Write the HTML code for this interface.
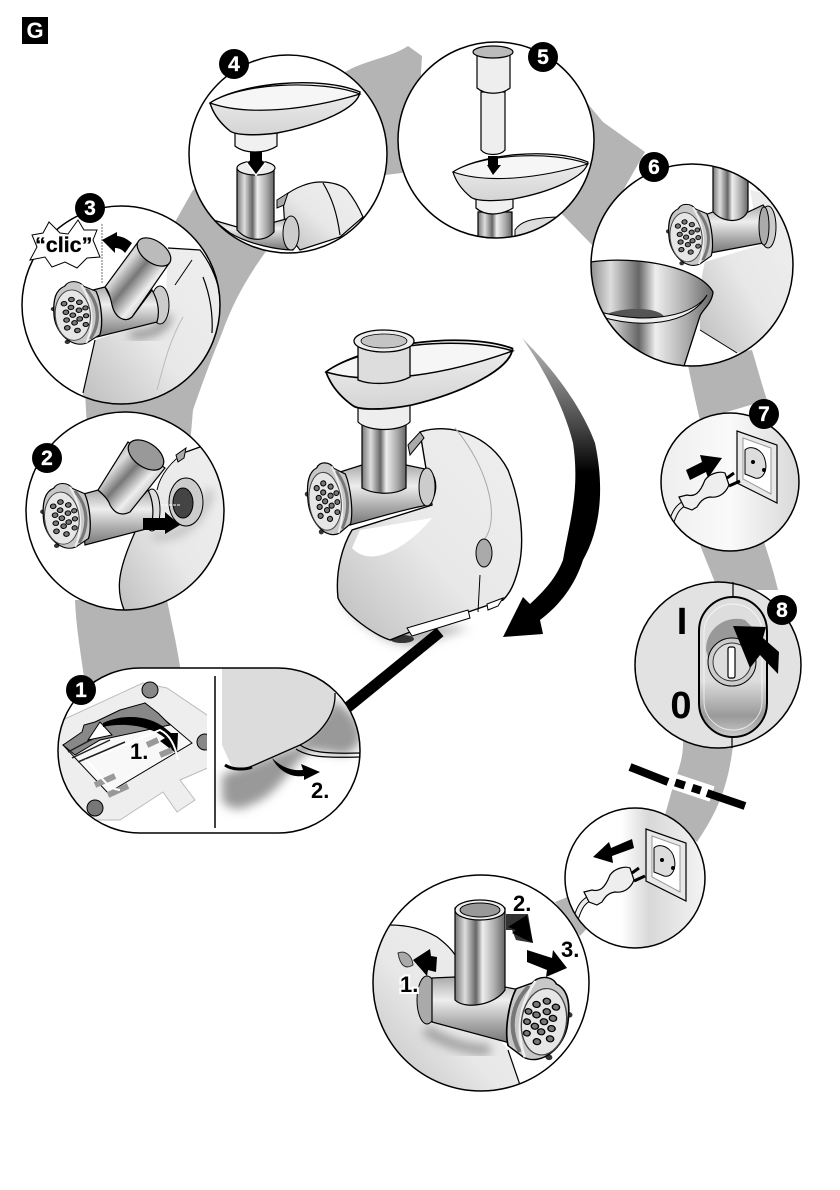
<!DOCTYPE html>
<html><head><meta charset="utf-8"><style>html,body{margin:0;padding:0;background:#fff}svg{display:block}text{font-family:"Liberation Sans",sans-serif;font-weight:bold}</style></head><body>
<svg width="840" height="1190" viewBox="0 0 840 1190" xmlns="http://www.w3.org/2000/svg">
<defs>
<linearGradient id="m"><stop offset="0" stop-color="#777"/><stop offset=".2" stop-color="#ddd"/><stop offset=".42" stop-color="#666"/><stop offset=".55" stop-color="#eee"/><stop offset=".8" stop-color="#aaa"/><stop offset="1" stop-color="#666"/></linearGradient>
<linearGradient id="m2" x1="0" y1="0" x2="1" y2="1"><stop offset="0" stop-color="#777"/><stop offset=".3" stop-color="#ddd"/><stop offset=".45" stop-color="#777"/><stop offset=".62" stop-color="#eee"/><stop offset=".8" stop-color="#aaa"/><stop offset="1" stop-color="#666"/></linearGradient>
<linearGradient id="mv" x1="0" y1="0" x2="0" y2="1"><stop offset="0" stop-color="#aaa"/><stop offset=".35" stop-color="#eee"/><stop offset=".7" stop-color="#aaa"/><stop offset="1" stop-color="#777"/></linearGradient>
<linearGradient id="b" x1="1" y1="0" x2="0" y2="1"><stop offset="0" stop-color="#efefef"/><stop offset=".55" stop-color="#e8e8e8"/><stop offset="1" stop-color="#bdbdbd"/></linearGradient>
<linearGradient id="t" x1="0" y1="0" x2="0" y2="1"><stop offset="0" stop-color="#f2f2f2"/><stop offset="1" stop-color="#d4d4d4"/></linearGradient>
<linearGradient id="arc" x1="0" y1="0" x2="0" y2="1"><stop offset="0" stop-color="#bbb"/><stop offset=".3" stop-color="#444"/><stop offset=".45" stop-color="#000"/></linearGradient>
<linearGradient id="sw" x1="0" y1="0" x2="0" y2="1"><stop offset="0" stop-color="#ddd"/><stop offset=".6" stop-color="#ddd"/><stop offset=".85" stop-color="#999"/><stop offset="1" stop-color="#ccc"/></linearGradient>
<linearGradient id="bg" x1="0" y1="0" x2="1" y2="0"><stop offset="0" stop-color="#eee"/><stop offset=".5" stop-color="#fafafa"/><stop offset="1" stop-color="#d8d8d8"/></linearGradient>
<linearGradient id="bw" x1="0" y1="0" x2="1" y2="0"><stop offset="0" stop-color="#fff"/><stop offset=".4" stop-color="#fff"/><stop offset=".6" stop-color="#d8d8d8"/><stop offset="1" stop-color="#f4f4f4"/></linearGradient>
<filter id="bl" x="-30%" y="-30%" width="160%" height="160%"><feGaussianBlur stdDeviation="5"/></filter>
<g id="h">
<circle cx="-20" cy="-8" r="2.5" fill="#333"/><circle cx="-10" cy="31" r="2.5" fill="#333"/>
<path d="M-8-33C-4-40 6-38 9-31L20-24C24-10 24 14 20 26L8 34C-6 40-20 20-20 0S-16-30-8-33Z" fill="#c8c8c8" stroke="#000" stroke-width="1.2"/>
<path d="M11-28C22-10 22 12 11 30" fill="none" stroke="#777" stroke-width="3"/>
<path d="M7-33C16-12 16 14 7 34" fill="none" stroke="#eee" stroke-width="2"/>
<ellipse cx="-3" cy="1" rx="16" ry="29" fill="#e6e6e6" stroke="#444"/>
<g fill="#777" stroke="#000" stroke-width="1">
<circle cx="-3" cy="1" r="2.6"/><circle cx="-4" cy="-8" r="2.6"/><circle cx="-2" cy="10" r="2.6"/><circle cx="3" cy="-4" r="2.6"/><circle cx="3" cy="6" r="2.6"/><circle cx="-9" cy="-3" r="2.6"/><circle cx="-9" cy="6" r="2.6"/><circle cx="-3" cy="-17" r="2.6"/><circle cx="4" cy="-13" r="2.6"/><circle cx="-10" cy="-13" r="2.6"/><circle cx="9" cy="-6" r="2.4"/><circle cx="9" cy="3" r="2.4"/><circle cx="8" cy="13" r="2.4"/><circle cx="-9" cy="15" r="2.6"/><circle cx="0" cy="19" r="2.6"/>
</g></g>
<clipPath id="c1l"><rect x="58" y="668" width="149" height="165"/></clipPath>
<clipPath id="c1"><rect x="58" y="668" width="302" height="165" rx="82"/></clipPath>
<clipPath id="c2"><circle cx="125" cy="511" r="99"/></clipPath>
<clipPath id="c3"><circle cx="121" cy="305" r="99"/></clipPath>
<clipPath id="c4"><circle cx="288" cy="154" r="99"/></clipPath>
<clipPath id="c5"><circle cx="496" cy="140" r="98"/></clipPath>
<clipPath id="c6"><circle cx="692" cy="265" r="101"/></clipPath>
<clipPath id="c7"><circle cx="730" cy="482" r="69"/></clipPath>
<clipPath id="c8"><circle cx="718" cy="665" r="83"/></clipPath>
<clipPath id="c9"><circle cx="635" cy="878" r="70"/></clipPath>
<clipPath id="c10"><circle cx="481" cy="983" r="108"/></clipPath>
<g id="tray"><path d="M0 0C30-20 110-28 150-11C148 5 110 22 67 30C45 33 25 32 20 28C10 20 3 10 0 0Z" fill="url(#t)" stroke="#000" stroke-width="1.4"/><path d="M0 0C40 14 100 6 150-9C110-24 30-20 0 0Z" fill="#f6f6f6" stroke="#000" stroke-width="1.2"/></g>
<g id="sock">
<path d="M646 829L686 843V901L646 881Z" fill="#e8e8e8" stroke="#000" stroke-width="1.2"/>
<path d="M652 836L680 846V892L652 877Z" fill="#fff" stroke="#999"/>
<path d="M654 848C660 842 672 848 674 858C677 868 672 878 664 876L654 872Z" fill="#ddd" stroke="#000"/>
<circle cx="662" cy="860" r="2" fill="#000"/><circle cx="673" cy="868" r="2" fill="#000"/>
</g>
<g id="plug">
<path d="M576 918C580 906 583 902 590 898" stroke="#000" stroke-width="6" fill="none"/>
<path d="M576 918C580 906 583 902 590 898" stroke="#eee" stroke-width="4" fill="none"/>
<path d="M632 873L639 868M634 881L645 876" stroke="#000" stroke-width="3"/>
<path d="M584 892L592 890C600 892 605 888 610 875C615 868 625 866 630 868L634 880C630 890 622 893 615 892C608 893 605 897 602 902L597 905L589 902Z" fill="#eee" stroke="#000" stroke-width="1.2"/>
</g>
</defs>
<rect width="840" height="1190" fill="#fff"/>

<g fill="#b4b4b4">
<path d="M75 600L167 600C172 625 178 650 182 680L86 690C80 650 76 625 75 600Z"/>
<path d="M85 390L87 430L190 445L193 410C205 375 215 350 222 333C232 305 245 280 267 250L230 170L193 190L175 222L120 300Z"/>
<path d="M345 72C365 60 390 58 408 46L422 56L420 90L410 172L385 175L300 100Z"/>
<path d="M588 104L603 122L645 152L592 245L560 212Z"/>
<path d="M687 360C692 385 695 400 700 420L767 400C762 385 758 370 752 350Z"/>
<path d="M700 545L718 590L778 590C772 565 768 555 762 535Z"/>
<path d="M683 740C684 760 676 775 672 790L665 815L697 842C715 815 728 790 733 745Z"/>
<path d="M555 902L570 896L590 925L580 936Z"/>
</g>

<!-- Big arrow -->
<path d="M522 338C560 375 585 415 595 443C605 490 600 530 583 560C575 585 560 605 540 620L543 634L503 637L523 597L530 604C545 590 556 578 563 560C570 520 580 490 573 443C565 410 545 370 522 338Z" fill="url(#arc)"/>

<!-- Main machine shadow + cord -->
<path d="M340 600C360 625 390 650 420 645L470 628L400 620Z" fill="#bbb" filter="url(#bl)"/>
<path d="M342 712L440 632" stroke="#000" stroke-width="11" fill="none"/>

<!-- Main machine -->
<g>
<ellipse cx="402" cy="639" rx="12" ry="4" fill="#333"/>
<path d="M420 432C450 422 490 435 508 470C522 505 525 545 518 570C514 585 510 593 503 600L410 632L390 640C375 635 345 615 338 598C335 570 343 545 352 530L432 505Z" fill="url(#b)" stroke="#000" stroke-width="1.4"/>
<path d="M455 428C490 470 500 520 484 540" stroke="#aaa" fill="none"/>
<path d="M352 548C372 570 410 545 432 518L360 530Z" fill="#fff"/>
<path d="M480 575L478 612" stroke="#000"/>
<ellipse cx="484" cy="553" rx="8" ry="14" fill="#aaa" stroke="#000"/>
<path d="M407 628L468 610L470 618L412 636Z" fill="#fff" stroke="#000"/>
<path d="M487 604L503 598L498 606L488 610Z" fill="#fff" stroke="#000"/>
<path d="M408 445L420 432L424 438L410 455Z" fill="#aaa" stroke="#000"/>
<path d="M340 472L362 465H406L430 470C438 480 438 495 428 505C400 510 370 520 350 525Z" fill="url(#mv)" stroke="#000" stroke-width="1.2"/>
<ellipse cx="427" cy="487" rx="8" ry="19" fill="#ccc" stroke="#000"/>
<path d="M362 425H406V488C395 495 375 495 362 488Z" fill="url(#m)" stroke="#000" stroke-width="1.2"/>
<path d="M358 404H410V422C400 432 368 432 358 422Z" fill="#eee" stroke="#000" stroke-width="1.2"/>
<use href="#tray" transform="translate(326,372) rotate(-3) scale(1.25)"/>
<path d="M358 340H410V377C395 385 370 385 358 380Z" fill="#ddd" stroke="#000" stroke-width="1.3"/>
<ellipse cx="384" cy="341" rx="30" ry="11" fill="#eee" stroke="#000" stroke-width="1.3"/>
<ellipse cx="384" cy="341" rx="23" ry="7" fill="#c4c4c4" stroke="#000" stroke-width=".8"/>
<use href="#h" transform="translate(328,500) rotate(-6)"/>
</g>

<!-- Circle 1 -->
<circle cx="140" cy="750" r="1" fill="none"/>
<rect x="58" y="668" width="302" height="165" rx="82" fill="#fff"/>
<g clip-path="url(#c1)">
<g clip-path="url(#c1l)">
<path d="M58 722L143 683L167 688L210 717V767L180 780L195 800L177 812L163 792L120 820H58Z" fill="#eee" stroke="#bbb"/>
<path d="M63 745L145 703L192 743L108 793Z" fill="#f8f8f8" stroke="#000"/>
<path d="M63 745L82 732L84 725L95 722L120 710L145 703L158 713L170 725L100 740L75 755Z" fill="#888" stroke="#000"/>
<path d="M68 752L100 735M72 758L110 740M78 762L125 742" stroke="#222" stroke-width="1.5"/>
<path d="M88 740L100 722L112 735Z" fill="#fff" stroke="#000"/>
<path d="M103 723C125 713 150 716 165 728L171 733L178 733L177 754L160 741L165 738C150 726 125 722 103 727Z" fill="#000"/>
<path d="M95 785L115 776M108 795L128 786" stroke="#999" stroke-width="6"/>
<path d="M147 745L158 740M160 755L172 750" stroke="#999" stroke-width="6"/>
<path d="M85 760C95 765 105 790 120 790M100 755L160 730C170 735 175 745 178 760" fill="none" stroke="#fff" stroke-width="2"/>
<circle cx="150" cy="690" r="8" fill="#888" stroke="#000"/>
<circle cx="95" cy="808" r="8" fill="#777" stroke="#000"/>
<circle cx="205" cy="742" r="8" fill="#888" stroke="#000"/>
</g>
<path d="M222 775L300 745L335 700C365 720 370 745 345 755L310 750C290 765 280 795 250 805C240 812 225 808 222 800Z" fill="#999" filter="url(#bl)"/>
<path d="M222 668H338L335 693C336 715 320 735 300 745L250 767H232L222 745Z" fill="#dcdcdc"/>
<path d="M335 693C336 715 320 735 300 745L250 767" fill="none" stroke="#000" stroke-width="1.3"/>
<path d="M300 745C310 752 325 754 360 753M296 749C308 757 325 758 360 757" fill="none" stroke="#000" stroke-width="1.2"/>
<path d="M225 765C232 770 245 770 252 767" fill="none" stroke="#000" stroke-width="3"/>
<path d="M272 758C282 768 293 771 303 770L301 764L320 772L304 780L304 776C290 778 278 770 272 758Z" fill="#000"/>
</g>
<rect x="58" y="668" width="302" height="165" rx="82" fill="none" stroke="#000" stroke-width="1.5"/>
<path d="M215 676V828" stroke="#000" stroke-width="1.5"/>
<text x="130" y="759" font-size="22">1.</text>
<text x="311" y="798" font-size="22">2.</text>

<!-- Circle 2 -->
<circle cx="125" cy="511" r="99" fill="#fff"/>
<g clip-path="url(#c2)">
<path d="M186 452L200 447C220 470 230 500 228 520V620L125 615C115 590 118 570 135 532L155 525L157 490C160 475 172 460 186 452Z" fill="url(#b)"/>
<path d="M186 452L200 447M135 532C118 570 115 590 125 612" fill="none" stroke="#000" stroke-width="1.3"/>
<path d="M157 490C160 475 172 460 186 452" fill="none" stroke="#000" stroke-width="1"/>
<path d="M152 535C170 540 200 530 210 490" stroke="#bbb" stroke-width="8" fill="none" filter="url(#bl)"/>
<path d="M176 455L186 448L184 458L178 462Z" fill="#aaa" stroke="#000"/>
<ellipse cx="186" cy="502" rx="17" ry="24" fill="#ccc" stroke="#000"/>
<ellipse cx="183" cy="503" rx="10" ry="15" fill="#444" stroke="#000"/>
<path d="M161 505H180" stroke="#fff" stroke-dasharray="3 1" stroke-width="1"/>
<ellipse cx="152" cy="510" rx="8" ry="21" fill="#ddd" stroke="#000"/>
<path d="M80 495L98 490L115 505L128 512L148 490C153 500 155 515 150 528L85 545Z" fill="url(#mv)" stroke="#000" stroke-width="1.2"/>
<path d="M128 442L165 468L130 512C122 516 115 514 110 505C108 498 100 492 98 490Z" fill="url(#m2)" stroke="#000" stroke-width="1.2"/>
<ellipse cx="146" cy="455" rx="20" ry="12" transform="rotate(35 146 455)" fill="#999" stroke="#000" stroke-width="1.2"/>
<path d="M143 518H165V512L180 525L165 534V530H143Z" fill="#000"/>
<use href="#h" transform="translate(65,517) rotate(-5) scale(1.08,.9)"/>
</g>
<circle cx="125" cy="511" r="99" fill="none" stroke="#000" stroke-width="1.5"/>

<!-- Circle 3 -->
<circle cx="121" cy="305" r="99" fill="#fff"/>
<g clip-path="url(#c3)">
<path d="M168 248L200 250C215 270 225 300 225 320V410L83 410V393L95 340L165 318Z" fill="url(#b)"/>
<path d="M168 248L200 250C212 265 219 285 219 293M95 340L83 393" fill="none" stroke="#000" stroke-width="1.2"/>
<path d="M203 277C210 295 213 315 212 333" fill="none" stroke="#000" stroke-width="1.2"/>
<path d="M157 390C165 360 170 340 183 317" fill="none" stroke="#bbb" stroke-width="1"/>
<path d="M175 285L192 260" stroke="#000"/>
<path d="M130 335C150 335 165 330 168 315" stroke="#888" stroke-width="8" fill="none" filter="url(#bl)"/>
<ellipse cx="160" cy="305" rx="9" ry="19" fill="#ccc" stroke="#000"/>
<path d="M93 290L105 287L114 305L132 317L152 290C158 300 160 312 157 322L97 337Z" fill="url(#mv)" stroke="#000" stroke-width="1.2"/>
<path d="M138 242L170 262L132 317C125 323 115 318 112 305C110 295 108 290 105 287Z" fill="url(#m2)" stroke="#000" stroke-width="1.2"/>
<ellipse cx="154" cy="252" rx="19" ry="11" transform="rotate(35 154 252)" fill="#bbb" stroke="#000" stroke-width="1.2"/>
<use href="#h" transform="translate(76,314) rotate(-5) scale(1.1,.87)"/>
</g>
<circle cx="121" cy="305" r="99" fill="none" stroke="#000" stroke-width="1.5"/>
<path d="M102 224V284" stroke="#888" stroke-width="1.2" stroke-dasharray="2 1"/>
<path d="M32 235L43 233L49 222L60 233L68 234L78 220L84 230L97 230L93 240L100 257L87 258L77 268L65 262L52 267L45 257L30 260L37 247Z" fill="#fff" stroke="#000"/>
<text x="35" y="252" font-size="21.5" stroke="#000" stroke-width=".3">“clic”</text>
<path d="M102 240L117 232L117 236C125 237 128 240 132 243L125 253C122 249 118 248 115 248L115 253Z" fill="#000"/>

<!-- Circle 4 -->
<circle cx="288" cy="154" r="99" fill="#fff"/>
<g clip-path="url(#c4)">
<path d="M283 197C295 187 310 182 320 182C332 182 342 185 347 190C355 200 360 210 363 217L340 237L300 250L285 230Z" fill="url(#b)" stroke="#000" stroke-width="1.2"/>
<path d="M323 183C332 198 337 213 340 235" fill="none" stroke="#000" stroke-width="1.2"/>
<path d="M277 200L288 193L284 205L277 208Z" fill="#aaa" stroke="#000"/>
<path d="M213 220L237 227L275 222L293 217C300 225 300 240 293 250C280 250 250 245 230 233Z" fill="url(#mv)" stroke="#000" stroke-width="1.2"/>
<ellipse cx="291" cy="233" rx="8" ry="17" fill="#ccc" stroke="#000"/>
<path d="M237 168H274V232C265 242 248 242 237 230Z" fill="url(#m)" stroke="#000" stroke-width="1.2"/>
<ellipse cx="256" cy="168" rx="19" ry="7" fill="#eee" stroke="#000" stroke-width="1.2"/>
<path d="M235 133H277V146C265 154 245 154 235 146Z" fill="#f0f0f0" stroke="#000" stroke-width="1.2"/>
<use href="#tray" transform="translate(210,103)"/>
<path d="M247 162L256 174L265 162" fill="none" stroke="#fff" stroke-width="3"/>
<path d="M250 152H262V162H265L256 174L247 162H250Z" fill="#000"/>
</g>
<circle cx="288" cy="154" r="99" fill="none" stroke="#000" stroke-width="1.5"/>

<!-- Circle 5 -->
<circle cx="496" cy="140" r="98" fill="#fff"/>
<g clip-path="url(#c5)">
<path d="M515 230C520 222 530 218 557 217L540 235L515 240Z" fill="#ddd" stroke="#000"/>
<path d="M478 212H512V245H478Z" fill="url(#m)" stroke="#000" stroke-width="1.2"/>
<path d="M476 198H513V208C500 216 485 216 476 208Z" fill="#f0f0f0" stroke="#000" stroke-width="1.2"/>
<use href="#tray" transform="translate(453,172) scale(.9)"/>
<path d="M481 92H505V150C500 156 486 156 481 150Z" fill="#eee" stroke="#000" stroke-width="1.2"/>
<path d="M477 52H510V88C502 95 485 95 477 88Z" fill="#eee" stroke="#000" stroke-width="1.2"/>
<ellipse cx="493" cy="52" rx="20" ry="6" fill="#bbb" stroke="#000" stroke-width="1.2"/>
<path d="M488 156H498V165H501L493 175L487 165H488Z" fill="#000"/>
</g>
<circle cx="496" cy="140" r="98" fill="none" stroke="#000" stroke-width="1.5"/>

<!-- Circle 6 -->
<circle cx="692" cy="265" r="101" fill="#fff"/>
<g clip-path="url(#c6)">
<path d="M750 190L795 200V340L737 353L700 330C700 300 700 280 705 262L760 245Z" fill="url(#b)"/>
<path d="M700 330L737 353" stroke="#000"/>
<path d="M748 175L760 190" stroke="#aaa" stroke-width="4"/>
<path d="M705 215L713 212H748L763 205C772 215 772 235 763 243L710 253Z" fill="url(#mv)" stroke="#000" stroke-width="1.2"/>
<ellipse cx="768" cy="227" rx="8" ry="21" fill="#ccc" stroke="#000"/>
<ellipse cx="764" cy="226" rx="5" ry="19" fill="#aaa" stroke="#000"/>
<path d="M713 160H748V210C745 222 725 225 713 212Z" fill="url(#m)" stroke="#000" stroke-width="1.2"/>
<use href="#h" transform="translate(689,236) rotate(-6) scale(1,.85)"/>
<path d="M590 262C640 255 700 268 713 292C712 304 702 310 700 316L684 366L600 360L585 320Z" fill="url(#m)" stroke="#000" stroke-width="1.3"/>
<path d="M600 317C620 306 660 306 665 318C640 324 620 322 600 317Z" fill="#555"/>
<path d="M595 315C640 330 690 325 707 295C695 315 650 325 600 312Z" fill="#eee" stroke="#000"/>
</g>
<circle cx="692" cy="265" r="101" fill="none" stroke="#000" stroke-width="1.5"/>

<!-- Circle 7 -->
<circle cx="730" cy="482" r="69" fill="url(#bg)"/>
<g clip-path="url(#c7)">
<use href="#sock" transform="translate(91,-398)"/>
<use href="#plug" transform="translate(95,-395)"/>
<path d="M686 470L702 462L700 455L722 458L708 478L706 472L690 480Z" fill="#000"/>
</g>
<circle cx="730" cy="482" r="69" fill="none" stroke="#000" stroke-width="1.5"/>

<!-- Circle 8 -->
<circle cx="718" cy="665" r="83" fill="#e2e2e2"/>
<path d="M733 582V597M732 737V748" stroke="#000" stroke-width="1.2"/>
<rect x="699" y="597" width="68" height="140" rx="34" fill="url(#sw)" stroke="#000" stroke-width="2"/>
<rect x="704" y="604" width="58" height="126" rx="29" fill="none" stroke="#fff" stroke-width="1" opacity=".7"/>
<path d="M706 650C706 625 730 615 745 620L765 640L750 670L710 665Z" fill="#999"/>
<circle cx="732" cy="662" r="24" fill="#ccc" stroke="#000" stroke-width="1"/>
<circle cx="732" cy="662" r="19" fill="#ddd" stroke="#333" stroke-width="1"/>
<rect x="728" y="647" width="7" height="31" rx="2" fill="#fff" stroke="#000" stroke-width="1.2"/>
<circle cx="718" cy="665" r="83" fill="none" stroke="#000" stroke-width="1.5"/>
<path d="M733 626L766 627L763 638L779 652L778 674L760 655L750 668Z" fill="#000"/>
<text x="682" y="634" font-size="38" text-anchor="middle">I</text>
<text x="681" y="718" font-size="38" text-anchor="middle">0</text>

<!-- Separator -->
<path d="M664 778L712 794" stroke="#fff" stroke-width="16"/>
<path d="M630 767L668 782M707 793L745 806" stroke="#000" stroke-width="8"/>
<rect x="675" y="780" width="10" height="8" fill="#000" transform="rotate(18 680 784)"/>
<rect x="692" y="785" width="9" height="8" fill="#000" transform="rotate(18 696 789)"/>

<!-- Circle 9 -->
<circle cx="635" cy="878" r="70" fill="url(#bw)"/>
<g clip-path="url(#c9)">
<use href="#sock"/>
<use href="#plug"/>
<path d="M632 839L634 848L612 856L613 863L593 857L609 842L611 848Z" fill="#000"/>
</g>
<circle cx="635" cy="878" r="70" fill="none" stroke="#000" stroke-width="1.5"/>

<!-- Circle 10 -->
<circle cx="481" cy="983" r="108" fill="#fff"/>
<g clip-path="url(#c10)">
<path d="M370 925H390C410 925 425 930 437 937C445 943 452 950 455 955L500 1040L508 1050L522 1095H370Z" fill="url(#b)"/>
<path d="M390 925C410 925 425 930 437 937C445 943 452 950 455 955" fill="none" stroke="#000" stroke-width="1.2"/>
<path d="M508 1050L520 1085" fill="none" stroke="#000" stroke-width="1.2"/>
<path d="M425 1030C450 1045 470 1050 490 1050" stroke="#999" stroke-width="10" fill="none" filter="url(#bl)"/>
<ellipse cx="427" cy="1000" rx="10" ry="24" fill="#aaa" stroke="#000"/>
<path d="M432 978L455 977L505 987L520 990L510 1043L432 1022Z" fill="url(#mv)" stroke="#000" stroke-width="1.2"/>
<path d="M455 908H505V990C495 1005 465 1010 455 1000Z" fill="url(#m)" stroke="#000" stroke-width="1.2"/>
<ellipse cx="480" cy="910" rx="25" ry="10" fill="#eee" stroke="#000" stroke-width="1.2"/>
<ellipse cx="480" cy="910" rx="20" ry="7" fill="#999" stroke="#000"/>
<use href="#h" transform="translate(540,1020) rotate(8) scale(-1.4,1.15)"/>
<path d="M398 953C405 950 412 955 413 965C405 970 400 965 398 953Z" fill="#aaa" stroke="#333"/>
</g>
<circle cx="481" cy="983" r="108" fill="none" stroke="#000" stroke-width="1.5"/>
<path d="M413 960L430 949L431 956L437 957L436 972L428 970L427 976Z" fill="#000"/>
<path d="M506 914L528 914L533 943L516 940L512 930L506 930Z" fill="#333"/>
<path d="M527 915L533 943L512 933L516 930L508 927Z" fill="#000"/>
<path d="M527 950L552 958L553 950L567 968L546 977L547 970L527 962Z" fill="#000"/>
<text x="513" y="911" font-size="22">2.</text>
<text x="561" y="957" font-size="22">3.</text>
<text x="400" y="992" font-size="22" fill="#000" stroke="#fff" stroke-width="4" paint-order="stroke">1.</text>

<!-- Badges -->
<g fill="#000">
<circle cx="81" cy="690" r="15"/><circle cx="47" cy="458" r="15"/><circle cx="90" cy="208" r="15"/><circle cx="234" cy="64" r="15"/><circle cx="543" cy="57" r="15"/><circle cx="654" cy="167" r="15"/><circle cx="764" cy="414" r="15"/><circle cx="782" cy="610" r="15"/>
</g>
<g fill="#fff" font-size="21" text-anchor="middle" stroke="#fff" stroke-width=".3">
<text x="81" y="697">1</text><text x="47" y="465">2</text><text x="90" y="215">3</text><text x="234" y="71">4</text><text x="543" y="64">5</text><text x="654" y="174">6</text><text x="764" y="421">7</text><text x="782" y="617">8</text>
</g>

<!-- G -->
<rect x="22" y="17" width="26" height="27" fill="#000"/>
<text x="35" y="38" font-size="22" fill="#fff" text-anchor="middle">G</text>
</svg>
</body></html>
